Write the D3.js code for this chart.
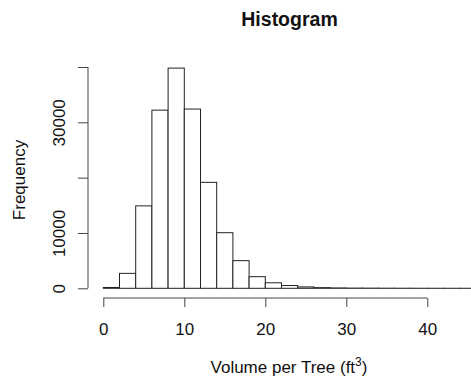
<!DOCTYPE html>
<html>
<head>
<meta charset="utf-8">
<script src="https://cdn.jsdelivr.net/npm/d3@7"></script>
<style>
  html, body { margin: 0; padding: 0; background: #fff; }
  svg { display: block; font-family: "Liberation Sans", Arial, Helvetica, sans-serif; }
</style>
</head>
<body>
<svg id="chart" width="471" height="379"></svg>
<script>
// Data: bins of width 2 (ft^3) and their counts
const binStarts = [0, 2, 4, 6, 8, 10, 12, 14, 16, 18, 20, 22, 24, 26, 28, 30, 32, 34, 36, 38, 40, 42, 44, 46];
const binWidth = 2;
const counts = [150, 2700, 14900, 32200, 39800, 32400, 19150, 10050, 5000, 2100, 1000, 500, 250, 120, 70, 40, 30, 20, 15, 10, 8, 5, 5, 3];
const xTicks = [0, 10, 20, 30, 40];
const yTicks = [0, 10000, 20000, 30000, 40000];
const yTickLabels = ["0", "10000", "", "30000", ""];

const bins = binStarts.map((s, i) => ({ x0: s, x1: s + binWidth, n: counts[i] }));

const svg = d3.select("#chart");
const W = 471, H = 379;

// Scales calibrated to the reference layout
const x = d3.scaleLinear().domain([0, 40]).range([103.3, 427.3]);
const y = d3.scaleLinear().domain([0, 40000]).range([288.3, 67]);

// clip to image
svg.append("defs").append("clipPath").attr("id", "clip")
  .append("rect").attr("x", 0).attr("y", 0).attr("width", W).attr("height", H);

// Bars
svg.append("g").attr("clip-path", "url(#clip)")
  .selectAll("rect").data(bins).join("rect")
  .attr("x", d => x(d.x0))
  .attr("y", d => y(d.n))
  .attr("width", d => x(d.x1) - x(d.x0))
  .attr("height", d => y(0) - y(d.n))
  .attr("fill", "#fff")
  .attr("stroke", "#222")
  .attr("stroke-width", 1);

// X axis (R style: detached below)
const xAxisY = 298;
const xAxis = d3.axisBottom(x).tickValues(xTicks).tickSize(9).tickPadding(0).tickFormat(d3.format("d"));
const gx = svg.append("g").attr("transform", `translate(0,${xAxisY})`).call(xAxis);
gx.select(".domain").attr("d", `M${x(0)},0H${x(40)}`).attr("stroke", "#444");
gx.selectAll(".tick line").attr("stroke", "#444");
gx.selectAll(".tick text").attr("font-size", 17).attr("fill", "#111")
  .attr("dy", null).attr("y", 37);

// Y axis
const yAxisX = 88;
const yAxis = d3.axisLeft(y).tickValues(yTicks).tickSize(10).tickFormat((d, i) => yTickLabels[i]);
const gy = svg.append("g").attr("transform", `translate(${yAxisX},0)`).call(yAxis);
gy.select(".domain").attr("d", `M0,${y(0)}V${y(40000)}`).attr("stroke", "#444");
gy.selectAll(".tick line").attr("stroke", "#444");
gy.selectAll(".tick text")
  .attr("font-size", 17).attr("fill", "#111")
  .attr("x", null).attr("dy", null)
  .attr("text-anchor", "middle")
  .attr("transform", "translate(-23,0) rotate(-90)");

// Title
svg.append("text").attr("x", 289.5).attr("y", 26)
  .attr("text-anchor", "middle").attr("font-size", 19.5).attr("font-weight", "bold")
  .attr("fill", "#111").text("Histogram");

// X label with superscript
const xl = svg.append("text").attr("x", 289).attr("y", 373)
  .attr("text-anchor", "middle").attr("font-size", 17).attr("fill", "#111");
xl.append("tspan").text("Volume per Tree (ft");
xl.append("tspan").attr("font-size", 12).attr("dy", -7).text("3");
xl.append("tspan").attr("dy", 7).text(")");

// Y label
svg.append("text").attr("transform", "translate(25,180) rotate(-90)")
  .attr("text-anchor", "middle").attr("font-size", 17).attr("fill", "#111")
  .text("Frequency");
</script>
</body>
</html>
